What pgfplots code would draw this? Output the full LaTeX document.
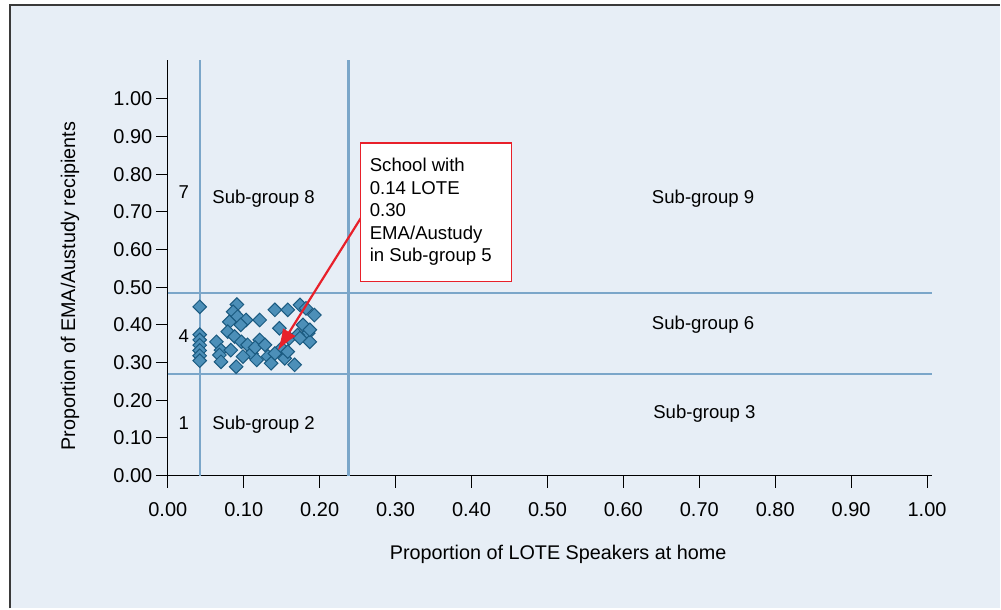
\documentclass[border=0pt]{standalone}
\usepackage{fontspec}
\setmainfont{Liberation Sans}
\usepackage{pgfplots}
\pgfplotsset{compat=1.18}
\usetikzlibrary{arrows.meta}
\definecolor{bg}{HTML}{E7EEF6}
\definecolor{gridc}{HTML}{7BA6C9}
\definecolor{markfill}{HTML}{4C8FB8}
\definecolor{markedge}{HTML}{1A5A80}
\definecolor{annred}{HTML}{E8202A}
\definecolor{framec}{HTML}{3A3A3A}
\newcommand{\fa}{\fontsize{18.6}{22.5}\selectfont}
\newcommand{\ft}{\fontsize{20}{24}\selectfont}
\newcommand{\fl}{\fontsize{19.8}{24}\selectfont}

\pgfplotstableread{
x y
0.042 0.448
0.042 0.374
0.042 0.360
0.042 0.346
0.042 0.332
0.042 0.318
0.042 0.305
0.091 0.454
0.086 0.435
0.092 0.422
0.103 0.413
0.081 0.408
0.096 0.400
0.079 0.382
0.064 0.355
0.088 0.369
0.097 0.355
0.105 0.347
0.070 0.333
0.083 0.333
0.110 0.324
0.068 0.320
0.070 0.302
0.099 0.316
0.090 0.289
0.121 0.413
0.141 0.440
0.158 0.440
0.174 0.453
0.182 0.444
0.193 0.426
0.147 0.391
0.178 0.400
0.185 0.378
0.187 0.355
0.187 0.387
0.171 0.373
0.160 0.364
0.121 0.360
0.115 0.340
0.128 0.347
0.150 0.338
0.117 0.307
0.132 0.316
0.141 0.324
0.136 0.298
0.154 0.311
0.158 0.329
0.167 0.294
0.174 0.365
}\schools

\begin{document}
\begin{tikzpicture}[x=1pt,y=1pt]
\path[fill=white] (0,0) rectangle (1001,609);
\fill[bg] (10,0) rectangle (1001,604);
\draw[framec, line width=2pt] (10,0) -- (10,604) -- (1001,604);
\begin{axis}[
  scale only axis,
  width=765.3pt, height=415.8pt,
  at={(168pt,133pt)}, anchor=south west,
  xmin=0, xmax=1.007, ymin=0, ymax=1.103,
  axis lines=left,
  axis line style={-, black, line width=1pt},
  xtick={0,0.1,0.2,0.3,0.4,0.5,0.6,0.7,0.8,0.9,1.0},
  ytick={0,0.1,0.2,0.3,0.4,0.5,0.6,0.7,0.8,0.9,1.0},
  tick align=outside,
  major tick length=12pt,
  tick style={black, line width=1pt},
  /pgf/number format/assume math mode=true,
  /pgf/number format/.cd, fixed, fixed zerofill, precision=2, /pgfplots/.cd,
  tick label style={font=\ft, text=black},
  xticklabel style={yshift=-12pt},
  clip=false,
  xlabel={Proportion of LOTE Speakers at home},
  ylabel={Proportion of EMA/Austudy recipients},
  x label style={at={(axis cs:0.514,-0.2095)}, anchor=center, font=\fl},
  y label style={at={(axis cs:-0.129,0.503)}, anchor=center, font=\fl},
]
\addplot[gridc, line width=2.2pt] coordinates {(0.042,0) (0.042,1.103)};
\addplot[gridc, line width=2.2pt] coordinates {(0.238,0) (0.238,1.103)};
\addplot[gridc, line width=2.2pt] coordinates {(0,0.485) (1.007,0.485)};
\addplot[gridc, line width=2.2pt] coordinates {(0,0.2706) (1.007,0.2706)};
\addplot[black, line width=1pt] coordinates {(-0.013,0) (0,0)};

\addplot[only marks, mark=square*, mark size=4.8pt,
  mark options={rotate=45, fill=markfill, draw=markedge, line width=1pt}]
  table[x=x, y=y] {\schools};

\coordinate (arrA) at (axis cs:0.254,0.683);
\coordinate (arrB) at (axis cs:0.1445,0.331);
\coordinate (boxA) at (axis cs:0.254,0.515);
\coordinate (boxB) at (axis cs:0.4526,0.883);
\coordinate (t1) at (axis cs:0.2658,0.806);
\coordinate (t2) at (axis cs:0.2658,0.7465);
\coordinate (t3) at (axis cs:0.2658,0.687);
\coordinate (t4) at (axis cs:0.2658,0.6275);
\coordinate (t5) at (axis cs:0.2658,0.568);

\node[anchor=base, font=\fa, inner sep=0] at (axis cs:0.0211,0.7366) {7};
\node[anchor=base, font=\fa, inner sep=0] at (axis cs:0.126,0.7233) {Sub-group 8};
\node[anchor=base, font=\fa, inner sep=0] at (axis cs:0.705,0.7233) {Sub-group 9};
\node[anchor=base, font=\fa, inner sep=0] at (axis cs:0.0211,0.3536) {4};
\node[anchor=base, font=\fa, inner sep=0] at (axis cs:0.705,0.387) {Sub-group 6};
\node[anchor=base, font=\fa, inner sep=0] at (axis cs:0.0211,0.122) {1};
\node[anchor=base, font=\fa, inner sep=0] at (axis cs:0.126,0.122) {Sub-group 2};
\node[anchor=base, font=\fa, inner sep=0] at (axis cs:0.7068,0.1512) {Sub-group 3};
\end{axis}
\draw[annred, line width=2.2pt, -{Latex[length=22pt,width=15pt]}] (arrA) -- (arrB);
\draw[annred, fill=white, line width=1.2pt] (boxA) rectangle (boxB);
\node[anchor=base west, font=\fa, inner sep=0] at (t1) {School with};
\node[anchor=base west, font=\fa, inner sep=0] at (t2) {0.14 LOTE};
\node[anchor=base west, font=\fa, inner sep=0] at (t3) {0.30};
\node[anchor=base west, font=\fa, inner sep=0] at (t4) {EMA/Austudy};
\node[anchor=base west, font=\fa, inner sep=0] at (t5) {in Sub-group 5};
\end{tikzpicture}
\end{document}
